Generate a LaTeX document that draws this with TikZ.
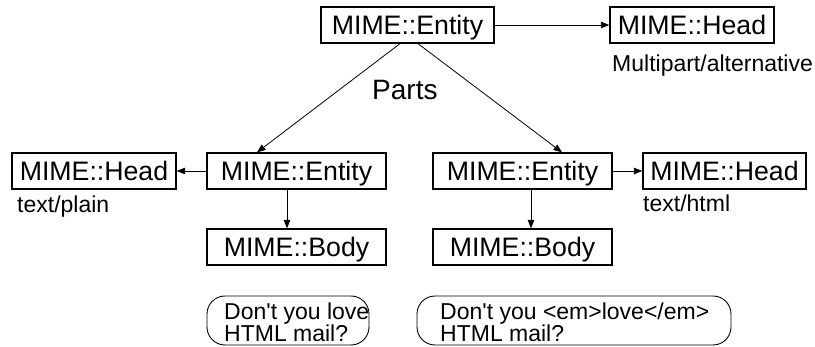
\documentclass[tikz,border=0pt]{standalone}
\usepackage{fontspec}
\setmainfont{Liberation Sans}
\usetikzlibrary{arrows.meta}

\tikzset{
  mimebox/.style={draw, line width=1.3pt, minimum height=36pt, inner sep=0pt,
    text height=19pt, text depth=0pt, font=\fontsize{26.7}{30}\selectfont},
  tag/.style={inner sep=0pt, anchor=base west, font=\fontsize{23}{26}\selectfont},
  link/.style={line width=0.8pt, -{Triangle[length=8.5pt,width=6.5pt]}},
  bubble/.style={draw, line width=0.9pt, rounded corners=18pt, inner sep=0pt},
  bubbletext/.style={inner sep=0pt, anchor=north west, align=left,
    font=\fontsize{23}{22}\selectfont}
}

\begin{document}
\begin{tikzpicture}[x=1pt, y=-1pt]
  \path[use as bounding box] (0,0) rectangle (815,347);

  % top level entity and its head
  \node[mimebox, minimum width=173pt] (top) at (407.5,25) {MIME::Entity};
  \node[mimebox, minimum width=164pt] (tophead) at (692,25) {MIME::Head};
  \node[tag] (mp) at (612,72) {Multipart/alternative};
  \node[tag, font=\fontsize{28}{30}\selectfont] (parts) at (372,100) {Parts};

  % plain text part
  \node[mimebox, minimum width=179pt] (ent1) at (296.5,171) {MIME::Entity};
  \node[mimebox, minimum width=164pt] (head1) at (94,171) {MIME::Head};
  \node[mimebox, minimum width=179pt] (body1) at (296.5,247) {MIME::Body};
  \node[tag] (tp) at (17,213) {text/plain};

  % html part
  \node[mimebox, minimum width=179pt] (ent2) at (522.5,171) {MIME::Entity};
  \node[mimebox, minimum width=163pt] (head2) at (724.5,171) {MIME::Head};
  \node[mimebox, minimum width=179pt] (body2) at (522.5,247) {MIME::Body};
  \node[tag] (th) at (643,212) {text/html};

  % body contents
  \node[bubble, minimum width=162pt, minimum height=49pt] (q1) at (288,320.5) {};
  \node[bubbletext] (q1txt) at (224,302.5) {Don\textquotesingle t you love\\HTML mail?};
  \node[bubble, minimum width=314pt, minimum height=49pt] (q2) at (574,320.5) {};
  \node[bubbletext] (q2txt) at (440,302.5) {Don\textquotesingle t you <em>love</em>\\HTML mail?};

  % connectors
  \draw[link] (top.east) -- (tophead.west);
  \draw[link] ([xshift=-7.5pt]top.south) -- ([xshift=-39.5pt]ent1.north);
  \draw[link] ([xshift=10.5pt]top.south) -- ([xshift=39.5pt]ent2.north);
  \draw[link] (ent1.west) -- (head1.east);
  \draw[link] ([xshift=-9.5pt]ent1.south) -- ([xshift=-9.5pt]body1.north);
  \draw[link] (ent2.east) -- (head2.west);
  \draw[link] ([xshift=8.5pt]ent2.south) -- ([xshift=8.5pt]body2.north);
\end{tikzpicture}
\end{document}
